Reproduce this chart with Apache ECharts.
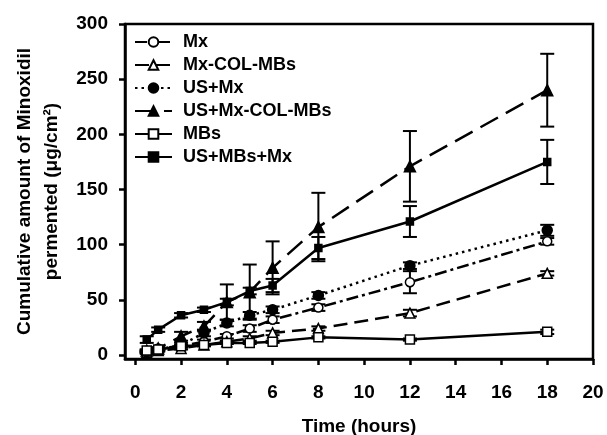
<!DOCTYPE html>
<html>
<head>
<meta charset="utf-8">
<script src="https://cdn.jsdelivr.net/npm/echarts@6/dist/echarts.min.js"></script>
<style>html,body{margin:0;padding:0;background:#fff}#c{width:607px;height:435px}</style>
</head>
<body>
<div id="c"></div>
<script>
const timeHours = [0.5, 1, 2, 3, 4, 5, 6, 8, 12, 18];
const seriesNames = ['Mx', 'Mx-COL-MBs', 'US+Mx', 'US+Mx-COL-MBs', 'MBs', 'US+MBs+Mx'];
const mx          = [3, 6, 8, 12, 17, 24, 32, 43, 66, 103];
const mxErr       = [1, 1, 1, 2, 2, 3, 3, 3, 10, 3];
const mxCol       = [2, 4, 6, 9, 12, 15, 20, 24, 38, 74];
const mxColErr    = [1, 1, 1, 1, 1, 2, 2, 2, 3, 2];
const usMx        = [3, 5, 9, 20, 29, 36, 41, 54, 81, 113];
const usMxErr     = [1, 1, 2, 3, 3, 3, 3, 3, 3, 5];
const usMxCol     = [4, 6, 17, 26, 48, 57, 79, 116, 171, 240];
const usMxColErr  = [1, 1, 4, 4, 16, 25, 24, 31, 32, 33];
const mbs         = [4, 5, 8, 9, 11, 11, 12, 16, 14, 21];
const mbsErr      = [1, 1, 1, 1, 1, 1, 1, 1, 1, 2];
const usMbsMx     = [14, 23, 36, 41, 48, 58, 63, 97, 121, 175];
const usMbsMxErr  = [3, 2, 2, 2, 3, 3, 6, 10, 14, 20];
const xTicks = [0, 2, 4, 6, 8, 10, 12, 14, 16, 18, 20];
const yTicks = [0, 50, 100, 150, 200, 250, 300];

const FONT = '"Liberation Sans", Arial, sans-serif';
const values = [mx, mxCol, usMx, usMxCol, mbs, usMbsMx];
const errs = [mxErr, mxColErr, usMxErr, usMxColErr, mbsErr, usMbsMxErr];
const styles = [
  {symbol: 'circle', size: 9, fill: '#fff', dash: [12, 4, 3, 4]},
  {symbol: 'triangle', size: 10, fill: '#fff', dash: [14, 7]},
  {symbol: 'circle', size: 10, fill: '#000', dash: [2.5, 4]},
  {symbol: 'triangle', size: 11, fill: '#000', dash: [20, 9]},
  {symbol: 'rect', size: 9, fill: '#fff', dash: 'solid'},
  {symbol: 'rect', size: 7, fill: '#000', dash: 'solid'}
];

const series = [];
seriesNames.forEach((name, i) => {
  series.push({
    type: 'custom',
    name: name + ' err',
    z: 2,
    silent: true,
    data: timeHours.map((t, j) => [t, values[i][j] - errs[i][j], values[i][j] + errs[i][j]]),
    renderItem: (params, api) => {
      const x = api.value(0);
      const lo = api.coord([x, api.value(1)]);
      const hi = api.coord([x, api.value(2)]);
      const w = 7;
      const st = {stroke: '#000', lineWidth: 2};
      return {type: 'group', children: [
        {type: 'line', shape: {x1: hi[0], y1: hi[1], x2: lo[0], y2: lo[1]}, style: st},
        {type: 'line', shape: {x1: hi[0] - w, y1: hi[1], x2: hi[0] + w, y2: hi[1]}, style: st},
        {type: 'line', shape: {x1: lo[0] - w, y1: lo[1], x2: lo[0] + w, y2: lo[1]}, style: st}
      ]};
    }
  });
});
seriesNames.forEach((name, i) => {
  const s = styles[i];
  series.push({
    type: 'line',
    name: name,
    z: 3,
    data: timeHours.map((t, j) => [t, values[i][j]]),
    symbol: s.symbol,
    symbolSize: s.size,
    showAllSymbol: true,
    lineStyle: {color: '#000', width: 2.5, type: s.dash},
    itemStyle: {color: s.fill, borderColor: '#000', borderWidth: 1.5},
    emphasis: {disabled: true},
    animation: false
  });
});

const chart = echarts.init(document.getElementById('c'), null, {renderer: 'canvas'});
chart.setOption({
  animation: false,
  backgroundColor: '#fff',
  grid: {left: 125, right: 14, top: 24, bottom: 76, outerBoundsMode: 'none', containLabel: false,
         show: true, borderColor: '#000', borderWidth: 2.5, backgroundColor: 'transparent'},
  legend: {
    data: seriesNames,
    orient: 'vertical',
    left: 129, top: 28,
    itemWidth: 37, itemHeight: 12, itemGap: 5,
    selectedMode: false,
    textStyle: {fontFamily: FONT, fontWeight: 'bold', fontSize: 18, color: '#000', padding: [0, 0, 0, 6]}
  },
  xAxis: {
    type: 'value', min: -0.45, max: 20,
    name: 'Time (hours)', nameLocation: 'middle', nameGap: 58,
    nameTextStyle: {fontFamily: FONT, fontWeight: 'bold', fontSize: 19, color: '#000'},
    axisLine: {onZero: false, lineStyle: {color: '#000', width: 2.5}},
    axisTick: {show: true, length: 6, lineStyle: {color: '#000', width: 2.5}, customValues: xTicks},
    axisLabel: {fontFamily: FONT, fontWeight: 'bold', fontSize: 19, color: '#000', margin: 24, customValues: xTicks},
    splitLine: {show: false}
  },
  yAxis: {
    type: 'value', min: -3.6, max: 300,
    name: 'Cumulative amount of Minoxidil\npermented (μg/cm²)', nameLocation: 'middle', nameGap: 60,
    nameTextStyle: {fontFamily: FONT, fontWeight: 'bold', fontSize: 19, color: '#000', lineHeight: 27},
    axisLine: {onZero: false, lineStyle: {color: '#000', width: 2.5}},
    axisTick: {show: true, length: 6, lineStyle: {color: '#000', width: 2.5}, customValues: yTicks},
    axisLabel: {fontFamily: FONT, fontWeight: 'bold', fontSize: 19, color: '#000', margin: 17, customValues: yTicks},
    splitLine: {show: false}
  },
  series: series
});
</script>
</body>
</html>
